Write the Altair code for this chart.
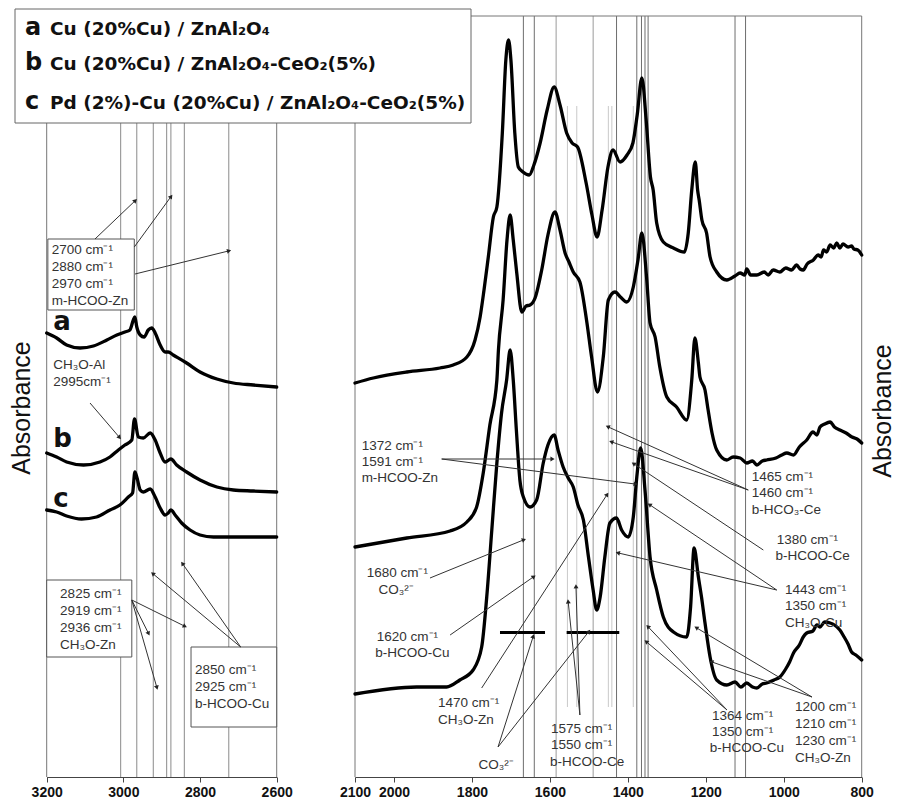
import math
import altair as alt
import pandas as pd

# ---------------- spectra: C-H stretching window (3200-2600 cm-1) ----------------
L_WN_A = [3200, 3174, 3148, 3113, 3078, 3043, 3017, 2996, 2983, 2974, 2970, 2965, 2956, 2946,
          2935, 2926, 2917, 2904, 2891, 2883, 2870, 2835, 2800, 2756, 2713, 2661, 2600]
L_ABS_A = [4.44, 4.39, 4.32, 4.29, 4.31, 4.37, 4.42, 4.45, 4.47, 4.57, 4.60, 4.50, 4.42, 4.40,
           4.47, 4.49, 4.44, 4.32, 4.25, 4.25, 4.22, 4.14, 4.05, 3.98, 3.94, 3.92, 3.90]

L_WN_B = [3200, 3174, 3148, 3104, 3061, 3035, 3013, 2996, 2978, 2971, 2961, 2948, 2930, 2917,
          2904, 2891, 2876, 2861, 2835, 2800, 2756, 2713, 2661, 2600]
L_ABS_B = [3.24, 3.20, 3.15, 3.12, 3.15, 3.20, 3.27, 3.32, 3.37, 3.58, 3.40, 3.39, 3.44, 3.37,
           3.24, 3.15, 3.18, 3.12, 3.05, 2.97, 2.90, 2.87, 2.86, 2.85]

L_WN_C = [3200, 3174, 3148, 3109, 3070, 3035, 3009, 2987, 2976, 2970, 2965, 2956, 2948, 2930,
          2917, 2904, 2891, 2883, 2876, 2865, 2848, 2826, 2800, 2765, 2713, 2600]
L_ABS_C = [2.67, 2.65, 2.61, 2.58, 2.60, 2.67, 2.72, 2.80, 2.84, 3.05, 3.00, 2.87, 2.85, 2.88,
           2.80, 2.69, 2.62, 2.64, 2.67, 2.62, 2.54, 2.47, 2.42, 2.40, 2.40, 2.40]

# ---------------- spectra: fingerprint window (2100-800 cm-1) ----------------
R_WN_A = [2100, 2053, 1967, 1882, 1848, 1813, 1792, 1779, 1769, 1758, 1745, 1736, 1722, 1713,
          1706, 1700, 1690, 1681, 1669, 1653, 1641, 1625, 1607, 1589, 1574, 1557, 1543, 1529,
          1507, 1492, 1479, 1466, 1451, 1438, 1420, 1402, 1387, 1376, 1364, 1353, 1342, 1335,
          1326, 1309, 1283, 1255, 1245, 1236, 1227, 1221, 1217, 1210, 1198, 1189, 1172, 1146,
          1125, 1112, 1100, 1095, 1085, 1069, 1050, 1040, 1027, 1010, 995, 980, 967, 958, 950,
          940, 924, 912, 904, 898, 890, 881, 872, 864, 856, 848, 835, 826, 820, 810, 800]
R_ABS_A = [3.94, 3.99, 4.05, 4.09, 4.12, 4.20, 4.37, 4.60, 4.87, 5.20, 5.60, 5.70, 6.44, 7.17,
           7.37, 7.17, 6.44, 6.10, 6.05, 6.02, 6.12, 6.34, 6.67, 6.90, 6.72, 6.44, 6.34, 6.30,
           5.94, 5.62, 5.40, 5.67, 6.10, 6.27, 6.15, 6.22, 6.34, 6.62, 6.99, 6.57, 6.00, 5.87,
           5.54, 5.35, 5.29, 5.25, 5.44, 5.87, 6.15, 5.87, 5.77, 5.57, 5.44, 5.20, 5.05, 4.97,
           5.01, 5.04, 5.02, 5.08, 5.02, 5.02, 5.05, 5.02, 5.07, 5.05, 5.09, 5.07, 5.12, 5.08, 5.07,
           5.13, 5.17, 5.22, 5.20, 5.27, 5.25, 5.32, 5.29, 5.34, 5.29, 5.33, 5.30, 5.31, 5.28, 5.27, 5.22]

R_WN_B = [2100, 1967, 1856, 1813, 1788, 1771, 1754, 1736, 1732, 1720, 1710, 1702, 1694, 1685,
          1672, 1661, 1651, 1638, 1621, 1605, 1587, 1574, 1561, 1551, 1540, 1523, 1506, 1493,
          1478, 1463, 1450, 1433, 1419, 1403, 1386, 1374, 1364, 1352, 1343, 1330, 1318, 1300,
          1275, 1249, 1236, 1228, 1219, 1215, 1202, 1194, 1184, 1172, 1146, 1130, 1112, 1095,
          1080, 1069, 1055, 1044, 1020, 1005, 992, 975, 960, 941, 925, 915, 907, 895, 881, 870,
          856, 840, 825, 812, 800]
R_ABS_B = [2.30, 2.39, 2.46, 2.55, 2.70, 3.04, 3.52, 3.97, 4.27, 4.77, 5.37, 5.62, 5.37, 5.04,
           4.65, 4.71, 4.72, 4.79, 5.07, 5.42, 5.65, 5.47, 5.24, 5.15, 5.05, 4.95, 4.57, 4.20,
           3.85, 4.20, 4.77, 4.85, 4.80, 4.75, 4.90, 5.17, 5.44, 5.00, 4.54, 4.40, 4.10, 3.80,
           3.70, 3.57, 3.97, 4.39, 4.14, 4.00, 3.87, 3.67, 3.44, 3.27, 3.17, 3.20, 3.19, 3.14,
           3.16, 3.12, 3.16, 3.17, 3.19, 3.22, 3.24, 3.22, 3.30, 3.37, 3.45, 3.42, 3.50, 3.53, 3.55, 3.50,
           3.47, 3.44, 3.40, 3.38, 3.34]

R_WN_C = [2100, 1942, 1865, 1831, 1797, 1775, 1762, 1749, 1736, 1724, 1711, 1702, 1694, 1686,
          1677, 1668, 1651, 1634, 1617, 1605, 1589, 1579, 1566, 1553, 1540, 1528, 1514, 1501,
          1489, 1480, 1471, 1459, 1446, 1429, 1416, 1399, 1386, 1377, 1367, 1356, 1343, 1326,
          1309, 1283, 1249, 1239, 1230, 1219, 1211, 1202, 1189, 1172, 1146, 1125, 1110, 1095,
          1080, 1069, 1055, 1044, 1025, 1010, 995, 985, 975, 960, 950, 941, 925, 915, 907, 895,
          881, 870, 856, 845, 835, 826, 815, 800]
R_ABS_C = [0.83, 0.90, 0.90, 0.97, 1.07, 1.30, 1.80, 2.47, 3.14, 3.64, 3.97, 4.27, 3.97, 3.47,
           2.97, 2.80, 2.70, 2.77, 3.14, 3.32, 3.42, 3.27, 3.10, 2.99, 2.90, 2.72, 2.57, 2.20,
           1.87, 1.67, 1.80, 2.20, 2.54, 2.59, 2.47, 2.40, 2.60, 3.00, 3.29, 2.87, 2.20, 1.87,
           1.60, 1.45, 1.40, 1.70, 2.29, 2.00, 1.80, 1.54, 1.20, 0.97, 0.92, 0.95, 0.90, 0.94,
           0.90, 0.89, 0.93, 0.94, 0.97, 1.00, 1.08, 1.15, 1.24, 1.32, 1.40, 1.44, 1.46, 1.52, 1.50, 1.55,
           1.54, 1.52, 1.47, 1.40, 1.33, 1.25, 1.22, 1.17]

# ---------------- band-position marker lines (cm-1) ----------------
LEFT_MARKERS = [3007, 2965, 2922, 2887, 2876, 2841, 2725]
RIGHT_MARKERS_DARK = [1668, 1640, 1429, 1377, 1365, 1356, 1348, 1125, 1098]
RIGHT_MARKERS_MID = [1584, 1489]
RIGHT_MARKERS_LIGHT = [1555, 1531, 1450, 1441, 1386]

# ---------------- assignments: label text, anchor (cm-1, a.u.) ----------------
LEFT_LABELS = [
    ("2700 cm⁻¹", 3187, 5.27), ("2880 cm⁻¹", 3187, 5.10), ("2970 cm⁻¹", 3187, 4.93),
    ("m-HCOO-Zn", 3187, 4.76),
    ("CH₃O-Al", 3183, 4.12), ("2995cm⁻¹", 3183, 3.95),
    ("2825 cm⁻¹", 3165, 1.83), ("2919 cm⁻¹", 3165, 1.66), ("2936 cm⁻¹", 3165, 1.49),
    ("CH₃O-Zn", 3165, 1.32),
    ("2850 cm⁻¹", 2813, 1.07), ("2925 cm⁻¹", 2813, 0.90), ("b-HCOO-Cu", 2813, 0.73),
]
LEFT_BOXES = [(3197, 2971.5, 5.38, 4.67), (3200, 2978, 1.97, 1.20), (2823.5, 2600, 1.30, 0.50)]
LEFT_ARROWS = [
    (3074, 5.38, 2970, 5.76), (2971.5, 5.30, 2876.5, 5.80), (2969.6, 5.03, 2726, 5.26),
    (3087, 3.74, 3011, 3.40),
    (2978, 1.77, 2841, 1.51), (2978, 1.77, 2935, 1.44), (2978, 1.77, 2913, 0.90),
    (2694, 1.30, 2922, 2.03), (2694, 1.30, 2845, 2.13),
]
LEFT_LETTERS = [("a", 3183, 4.47), ("b", 3183, 3.30), ("c", 3183, 2.70)]

RIGHT_LABELS = [
    ("1372 cm⁻¹", 2083, 3.31), ("1591 cm⁻¹", 2083, 3.15), ("m-HCOO-Zn", 2083, 2.99),
    ("1680 cm⁻¹", 2070, 2.04), ("CO₃²⁻", 2040, 1.87),
    ("1620 cm⁻¹", 2044, 1.40), ("b-HCOO-Cu", 2048, 1.24),
    ("1470 cm⁻¹", 1887, 0.74), ("CH₃O-Zn", 1887, 0.57),
    ("CO₃²⁻", 1783, 0.12),
    ("1575 cm⁻¹", 1597, 0.48), ("1550 cm⁻¹", 1597, 0.32), ("b-HCOO-Ce", 1600, 0.15),
    ("1465 cm⁻¹", 1082, 3.00), ("1460 cm⁻¹", 1082, 2.84), ("b-HCO₃-Ce", 1082, 2.67),
    ("1380 cm⁻¹", 1018, 2.37), ("b-HCOO-Ce", 1021, 2.21),
    ("1443 cm⁻¹", 997, 1.87), ("1350 cm⁻¹", 997, 1.71), ("CH₃O-Cu", 997, 1.54),
    ("1364 cm⁻¹", 1184, 0.61), ("1350 cm⁻¹", 1184, 0.45), ("b-HCOO-Cu", 1190, 0.29),
    ("1200 cm⁻¹", 971, 0.70), ("1210 cm⁻¹", 971, 0.53), ("1230 cm⁻¹", 971, 0.36),
    ("CH₃O-Zn", 971, 0.19),
]
RIGHT_ARROWS = [
    (1877.6, 3.18, 1595, 3.18), (1877.6, 3.18, 1381.6, 2.93),
    (1907.6, 1.99, 1668.2, 2.37), (1856, 1.42, 1642.6, 2.00), (1775, 0.89, 1454, 2.82),
    (1733, 0.30, 1643.3, 1.40), (1733, 0.30, 1501, 1.45),
    (1523, 0.62, 1553, 1.75), (1523, 0.62, 1533, 1.90),
    (1091, 2.87, 1450, 3.50), (1091, 2.87, 1441, 3.35), (1052.4, 2.27, 1384, 3.13),
    (1018, 1.87, 1343, 2.72), (1018, 1.87, 1424, 2.24),
    (1145.6, 0.67, 1347.5, 1.50), (1145.6, 0.67, 1351.6, 1.35),
    (927.5, 0.80, 1223, 1.49), (927.5, 0.80, 1184, 1.15),
]
RIGHT_BARS = [(1728, 1612.5, 1.445), (1557, 1422, 1.445)]

LEGEND_ROWS = [
    ("a", "Cu (20%Cu) / ZnAl₂O₄"),
    ("b", "Cu (20%Cu) / ZnAl₂O₄-CeO₂(5%)"),
    ("c", "Pd (2%)-Cu (20%Cu) / ZnAl₂O₄-CeO₂(5%)"),
]

LEFT_TICKS = [3200, 3000, 2800, 2600]
RIGHT_TICKS = [2100, 2000, 1800, 1600, 1400, 1200, 1000, 800]

# ---------------- layout ----------------
W, H = 897, 777
Y_DOMAIN = [0, 7.77]
FRAME_TOP = 7.61
LEFT_DOMAIN, LEFT_RANGE = [3200, 2600], [46.7, 276.7]
RIGHT_DOMAIN, RIGHT_RANGE = [2100, 800], [355, 861.7]
TEXT_FONT = "Liberation Sans, Arial, sans-serif"


def to_px(wn, a, dom, rng):
    x = rng[0] + (wn - dom[0]) / (dom[1] - dom[0]) * (rng[1] - rng[0])
    y = H - a / Y_DOMAIN[1] * H
    return x, y


def spectra_df(groups):
    rows = []
    for name, wns, vals in groups:
        rows += [{"sample": name, "wn": w, "A": v} for w, v in zip(wns, vals)]
    return pd.DataFrame(rows)


def arrows_df(arrows, dom, rng):
    df = pd.DataFrame(arrows, columns=["x0", "y0", "x1", "y1"])
    ang = []
    for r in df.itertuples():
        sx, sy = to_px(r.x0, r.y0, dom, rng)
        ex, ey = to_px(r.x1, r.y1, dom, rng)
        ang.append(math.degrees(math.atan2(ex - sx, -(ey - sy))) % 360)
    df["angle"] = ang
    return df


def build_panel(spec, markers, labels, arrows, letters, boxes, bars, dom, rng, ticks):
    xs = alt.Scale(domain=dom, range=rng)
    ys = alt.Scale(domain=Y_DOMAIN)
    ax = alt.Axis(values=ticks, format="d", title=None, grid=False, orient="bottom",
                  labelFont="Liberation Sans Narrow, Liberation Sans, Arial",
                  labelFontSize=14, labelFontWeight="bold", labelColor="#111",
                  domainColor="#444", tickColor="#444", tickSize=5, labelPadding=3,
                  labelFlush=False, labelOverlap=False)

    def X(f):
        return alt.X(f, type="quantitative", scale=xs, axis=ax)

    def Y(f):
        return alt.Y(f, type="quantitative", scale=ys, axis=None)

    layers = []
    frame = pd.DataFrame({"wn": [dom[0], dom[1]], "top": [FRAME_TOP] * 2, "bottom": [0, 0]})
    layers.append(alt.Chart(markers).mark_rule(strokeWidth=1).encode(
        x=X("wn"), y=Y("top"), y2="bottom", color=alt.Color("shade:N", scale=None)))
    layers.append(alt.Chart(frame).mark_rule(strokeWidth=1, color="#777").encode(
        x=X("wn"), y=Y("top"), y2="bottom"))
    top = pd.DataFrame({"x0": [dom[0]], "x1": [dom[1]], "A": [FRAME_TOP]})
    layers.append(alt.Chart(top).mark_rule(strokeWidth=1, color="#777").encode(
        x=X("x0"), x2="x1", y=Y("A")))
    layers.append(alt.Chart(spec).mark_line(color="black", strokeWidth=3.3, interpolate="monotone",
                                            strokeJoin="round", strokeCap="round").encode(
        x=X("wn"), y=Y("A"), detail="sample:N"))
    if boxes is not None:
        bdf = pd.DataFrame(boxes, columns=["x0", "x1", "y0", "y1"])
        layers.append(alt.Chart(bdf).mark_rect(fill="white", stroke="#555", strokeWidth=1).encode(
            x=X("x0"), x2="x1", y=Y("y0"), y2="y1"))
    if bars is not None:
        bar_df = pd.DataFrame(bars, columns=["x0", "x1", "A"])
        layers.append(alt.Chart(bar_df).mark_rule(strokeWidth=3, color="black").encode(
            x=X("x0"), x2="x1", y=Y("A")))
    adf = arrows_df(arrows, dom, rng)
    layers.append(alt.Chart(adf).mark_rule(strokeWidth=1, color="#333").encode(
        x=X("x0"), x2="x1", y=Y("y0"), y2="y1"))
    layers.append(alt.Chart(adf).mark_point(shape="triangle", filled=True, size=24,
                                            color="#222", opacity=1).encode(
        x=X("x1"), y=Y("y1"), angle=alt.Angle("angle:Q", scale=None)))
    ldf = pd.DataFrame(labels, columns=["label", "wn", "A"])
    layers.append(alt.Chart(ldf).mark_text(align="left", baseline="middle", font=TEXT_FONT,
                                           fontSize=13.5, color="#333").encode(
        x=X("wn"), y=Y("A"), text="label:N"))
    if letters is not None:
        tdf = pd.DataFrame(letters, columns=["label", "wn", "A"])
        layers.append(alt.Chart(tdf).mark_text(align="left", baseline="alphabetic",
                                               font="DejaVu Sans", fontWeight="bold",
                                               fontSize=26, color="#111").encode(
            x=X("wn"), y=Y("A"), text="label:N"))
    return alt.layer(*layers)


left_spec = spectra_df([("a", L_WN_A, L_ABS_A), ("b", L_WN_B, L_ABS_B), ("c", L_WN_C, L_ABS_C)])
right_spec = spectra_df([("a", R_WN_A, R_ABS_A), ("b", R_WN_B, R_ABS_B), ("c", R_WN_C, R_ABS_C)])

left_markers = pd.DataFrame({"wn": LEFT_MARKERS, "top": FRAME_TOP, "bottom": 0.0, "shade": "#8a8a8a"})
right_markers = pd.concat([
    pd.DataFrame({"wn": RIGHT_MARKERS_DARK, "top": FRAME_TOP, "bottom": 0.0, "shade": "#6e6e6e"}),
    pd.DataFrame({"wn": RIGHT_MARKERS_MID, "top": FRAME_TOP, "bottom": 0.0, "shade": "#9a9a9a"}),
    pd.DataFrame({"wn": RIGHT_MARKERS_LIGHT, "top": 6.71, "bottom": 0.70, "shade": "#c9c9c9"}),
], ignore_index=True)

left_panel = build_panel(left_spec, left_markers, LEFT_LABELS, LEFT_ARROWS, LEFT_LETTERS,
                         LEFT_BOXES, None, LEFT_DOMAIN, LEFT_RANGE, LEFT_TICKS)
right_panel = build_panel(right_spec, right_markers, RIGHT_LABELS, RIGHT_ARROWS, None,
                          None, RIGHT_BARS, RIGHT_DOMAIN, RIGHT_RANGE, RIGHT_TICKS)

# ---------------- sample key and axis titles ----------------
one = pd.DataFrame({"k": [0]})
overlay = [
    alt.Chart(one).mark_rect(fill="white", stroke="#666", strokeWidth=1).encode(
        x=alt.value(15), x2=alt.value(471), y=alt.value(9), y2=alt.value(123)),
]
for (letter, desc), base in zip(LEGEND_ROWS, [35, 70, 109]):
    overlay.append(alt.Chart(one).mark_text(text=letter, align="left", baseline="alphabetic",
                                            font="DejaVu Sans", fontWeight="bold", fontSize=24,
                                            color="#111").encode(x=alt.value(25), y=alt.value(base)))
    overlay.append(alt.Chart(one).mark_text(text=desc, align="left", baseline="alphabetic",
                                            font="DejaVu Sans", fontWeight="bold", fontSize=18.5,
                                            color="#111").encode(x=alt.value(50), y=alt.value(base)))
for xpos, ypos in [(22, 408), (883, 411)]:
    overlay.append(alt.Chart(one).mark_text(text="Absorbance", angle=270, align="center",
                                            baseline="middle", font=TEXT_FONT, fontSize=25,
                                            color="#111").encode(x=alt.value(xpos), y=alt.value(ypos)))

chart = alt.layer(left_panel, right_panel, *overlay).resolve_scale(x="independent").properties(
    width=W, height=H,
    padding={"left": 0, "top": 0, "right": 0, "bottom": 24},
    autosize=alt.AutoSizeParams(type="none"),
    background="white",
).configure_view(stroke=None)

chart.save("out.html", embed_options={"renderer": "svg", "actions": False})
